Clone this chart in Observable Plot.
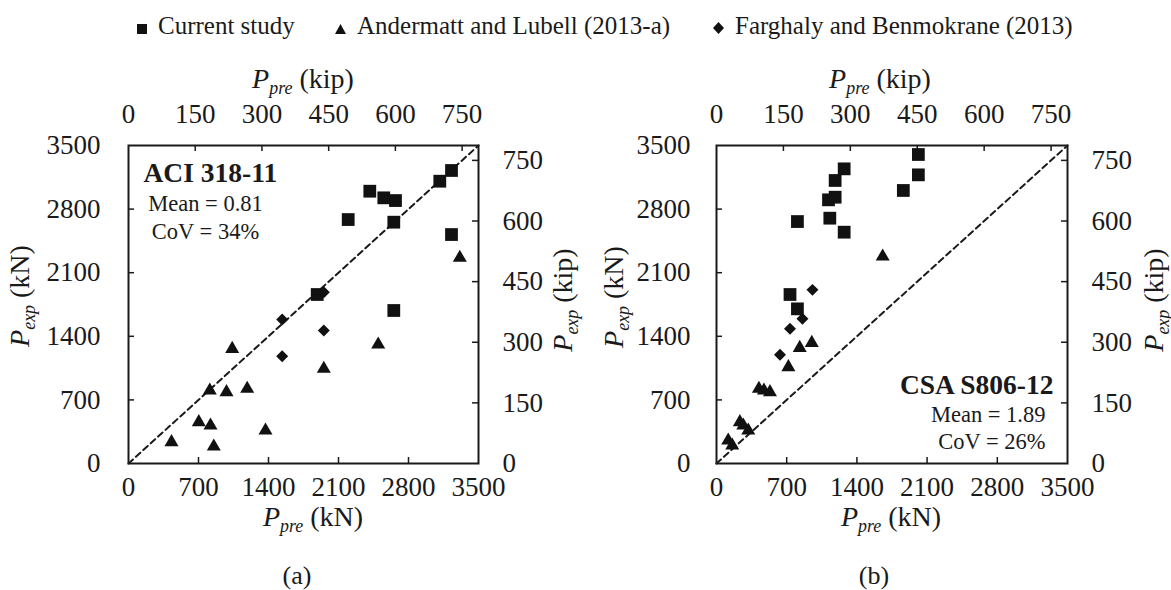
<!DOCTYPE html>
<html><head><meta charset="utf-8">
<script src="https://cdn.jsdelivr.net/npm/d3@7"></script>
<script src="https://cdn.jsdelivr.net/npm/@observablehq/plot@0.6"></script>
<style>
body{margin:0;background:#fff;}
#root{position:relative;width:1171px;height:590px;font-family:"Liberation Serif","Times New Roman",serif;color:#1a1a1a;overflow:hidden;background:#fff;}
.abs{position:absolute;white-space:nowrap;line-height:1;}
.sub{font-size:0.64em;position:relative;top:0.32em;}
.leg{position:absolute;white-space:nowrap;line-height:1;font-size:25px;}
.leg svg{display:inline-block;vertical-align:baseline;margin-right:11px;}
</style></head><body><div id="root"></div>
<script>
// ---------- data ----------
const KIP = 4.44822; // kN per kip
const kNTicks = [0, 700, 1400, 2100, 2800, 3500];
const kipTicks = [0, 150, 300, 450, 600, 750];
const diagonal = [0, 3500];
const seriesNames = ["Current study", "Andermatt and Lubell (2013-a)", "Farghaly and Benmokrane (2013)"];

// Panel (a): ACI 318-11 (P_pre kN vs P_exp kN)
const aciCurrentPre = [3230, 3113, 2413, 2553, 2670, 2653, 2197, 3230, 1887, 2653];
const aciCurrentExp = [3225, 3107, 2997, 2924, 2894, 2656, 2685, 2520, 1860, 1684];
const aciAndermattPre = [3313, 2497, 1037, 1953, 813, 980, 1187, 703, 820, 1370, 430, 853];
const aciAndermattExp = [2264, 1310, 1262, 1042, 803, 785, 822, 455, 418, 363, 235, 187];
const aciFarghalyPre = [1953, 1537, 1953, 1537];
const aciFarghalyExp = [1885, 1585, 1464, 1181];
const aciNotes = ["ACI 318-11", "Mean = 0.81", "CoV = 34%"];

// Panel (b): CSA S806-12
const csaCurrentPre = [2013, 2013, 1863, 1273, 1183, 1183, 1117, 807, 1130, 1273, 733, 807];
const csaCurrentExp = [3401, 3177, 3005, 3243, 3115, 2931, 2902, 2663, 2700, 2546, 1860, 1702];
const csaAndermattPre = [1657, 950, 830, 717, 423, 473, 533, 233, 267, 317, 117, 157];
const csaAndermattExp = [2278, 1328, 1273, 1060, 822, 803, 785, 455, 418, 363, 253, 198];
const csaFarghalyPre = [957, 857, 733, 633];
const csaFarghalyExp = [1911, 1592, 1482, 1196];
const csaNotes = ["CSA S806-12", "Mean = 1.89", "CoV = 26%"];

// ---------- helpers ----------
const pts = (pre, exp) => pre.map((p, i) => ({pre: p, exp: exp[i]}));
const kipAsKN = kipTicks.map(k => k * KIP);
const fmtKip = d => String(Math.round(d / KIP));
const fmtKN = d => String(d);
const FONT = '"Liberation Serif","Times New Roman",serif';

function panel(o) {
  const H = 590, mt = 145, mb = 127;
  const fw = o.width - o.ml - o.mr, fh = H - mt - mb;
  const svg = Plot.plot({
    width: o.width, height: H,
    marginLeft: o.ml, marginRight: o.mr, marginTop: mt, marginBottom: mb,
    x: {domain: [0, 3500]}, y: {domain: [0, 3500]},
    style: {fontFamily: FONT, fontSize: "27px", color: "#1a1a1a", background: "transparent", overflow: "visible"},
    marks: [
      Plot.axisX(kNTicks, {anchor: "bottom", tickSize: 0, tickPadding: 13, tickFormat: fmtKN, label: null}),
      Plot.axisX(kipAsKN, {anchor: "top", tickSize: 0, tickPadding: 23, tickFormat: fmtKip, label: null}),
      Plot.axisY(kNTicks, {anchor: "left", tickSize: 0, tickPadding: o.leftPad, tickFormat: fmtKN, label: null}),
      Plot.axisY(kipAsKN, {anchor: "right", tickSize: 0, tickPadding: 24, tickFormat: fmtKip, label: null}),
      Plot.ruleX(kNTicks.slice(1, -1), {insetTop: fh - 6, strokeWidth: 1.5}),
      Plot.ruleX(kipAsKN.slice(1), {insetBottom: fh - 6, strokeWidth: 1.5}),
      Plot.ruleY(kNTicks.slice(1, -1), {insetRight: fw - 6, strokeWidth: 1.5}),
      Plot.ruleY(kipAsKN.slice(1), {insetLeft: fw - 6, strokeWidth: 1.5}),
      Plot.line(diagonal, {x: d => d, y: d => d, stroke: "#1a1a1a", strokeWidth: 2, strokeDasharray: "6,4"}),
      Plot.dot(pts(o.current[0], o.current[1]), {x: "pre", y: "exp", symbol: "square", r: 7.2, fill: "#111", stroke: "none"}),
      Plot.dot(pts(o.tri[0], o.tri[1]), {x: "pre", y: "exp", symbol: "triangle", r: 5.2, fill: "#111", stroke: "none"}),
      Plot.dot(pts(o.dia[0], o.dia[1]), {x: "pre", y: "exp", symbol: "diamond2", r: 5.4, fill: "#111", stroke: "none"}),
      ...o.notes,
      Plot.frame({stroke: "#1a1a1a", strokeWidth: 2})
    ]
  });
  svg.style.position = "absolute";
  svg.style.top = "0px";
  svg.style.left = o.left + "px";
  svg.style.maxWidth = "none";
  return svg;
}

const root = document.getElementById("root");

root.appendChild(panel({
  left: 0, width: 585, ml: 128, mr: 107, leftPad: 28,
  current: [aciCurrentPre, aciCurrentExp], tri: [aciAndermattPre, aciAndermattExp], dia: [aciFarghalyPre, aciFarghalyExp],
  notes: [
    Plot.text([aciNotes[0]], {text: d => d, frameAnchor: "top-left", dx: 15, dy: 36.5, textAnchor: "start", lineAnchor: "bottom", fontSize: 27.5, fontWeight: "bold"}),
    Plot.text([aciNotes[1]], {text: d => d, frameAnchor: "top-left", dx: 77, dy: 65, textAnchor: "middle", lineAnchor: "bottom", fontSize: 22.5}),
    Plot.text([aciNotes[2]], {text: d => d, frameAnchor: "top-left", dx: 77, dy: 93, textAnchor: "middle", lineAnchor: "bottom", fontSize: 22.5})
  ]
}));

root.appendChild(panel({
  left: 585, width: 586, ml: 131, mr: 104, leftPad: 26,
  current: [csaCurrentPre, csaCurrentExp], tri: [csaAndermattPre, csaAndermattExp], dia: [csaFarghalyPre, csaFarghalyExp],
  notes: [
    Plot.text([csaNotes[0]], {text: d => d, frameAnchor: "bottom-right", dx: -14, dy: -69.5, textAnchor: "end", lineAnchor: "bottom", fontSize: 27.5, fontWeight: "bold"}),
    Plot.text([csaNotes[1]], {text: d => d, frameAnchor: "bottom-right", dx: -22, dy: -41.5, textAnchor: "end", lineAnchor: "bottom", fontSize: 22.5}),
    Plot.text([csaNotes[2]], {text: d => d, frameAnchor: "bottom-right", dx: -22, dy: -14.5, textAnchor: "end", lineAnchor: "bottom", fontSize: 22.5})
  ]
}));

// ---------- HTML text: titles, legend, panel tags ----------
function label(html, cx, baseline, fs, rotate) {
  const d = document.createElement("div");
  d.className = "abs";
  d.style.fontSize = fs + "px";
  d.innerHTML = html;
  if (rotate) {
    // baseline is the x of the text baseline; glyph tops point left
    d.style.left = (baseline - 0.3375 * fs) + "px";
    d.style.top = cx + "px";
    d.style.transform = "translate(-50%,-50%) rotate(-90deg)";
  } else {
    d.style.left = cx + "px";
    d.style.top = (baseline - 0.8375 * fs) + "px";
    d.style.transform = "translateX(-50%)";
  }
  root.appendChild(d);
}
const P = s => `<i>P</i><span class="sub"><i>${s}</i></span>`;
const TF = 28;
label(`${P("pre")} (kip)`, 303, 88.3, TF);
label(`${P("pre")} (kip)`, 880, 88.3, TF);
label(`${P("pre")} (kN)`, 313, 526.5, TF);
label(`${P("pre")} (kN)`, 891, 526.5, TF);
label(`${P("exp")} (kN)`, 296, 29, TF, true);
label(`${P("exp")} (kip)`, 300, 572, TF, true);
label(`${P("exp")} (kN)`, 297, 623, TF, true);
label(`${P("exp")} (kip)`, 300, 1163, TF, true);
label("(a)", 297, 585, 26);
label("(b)", 874, 585, 26);

const legendMarkers = [
  `<svg width="10" height="10" viewBox="0 0 10 10"><rect x="0" y="0" width="10" height="10" fill="#111"/></svg>`,
  `<svg width="11" height="10" viewBox="0 0 11 10"><path d="M5.5 0L11 10H0Z" fill="#111"/></svg>`,
  `<svg width="11" height="12" viewBox="0 0 11 12"><path d="M5.5 0L11 6L5.5 12L0 6Z" fill="#111"/></svg>`
];
const legendLeft = [137, 335, 713];
seriesNames.forEach((name, i) => {
  const d = document.createElement("div");
  d.className = "leg";
  d.style.left = legendLeft[i] + "px";
  d.style.top = (34 - 0.8375 * 25) + "px";
  d.innerHTML = legendMarkers[i] + name;
  root.appendChild(d);
});
</script>
</body></html>
